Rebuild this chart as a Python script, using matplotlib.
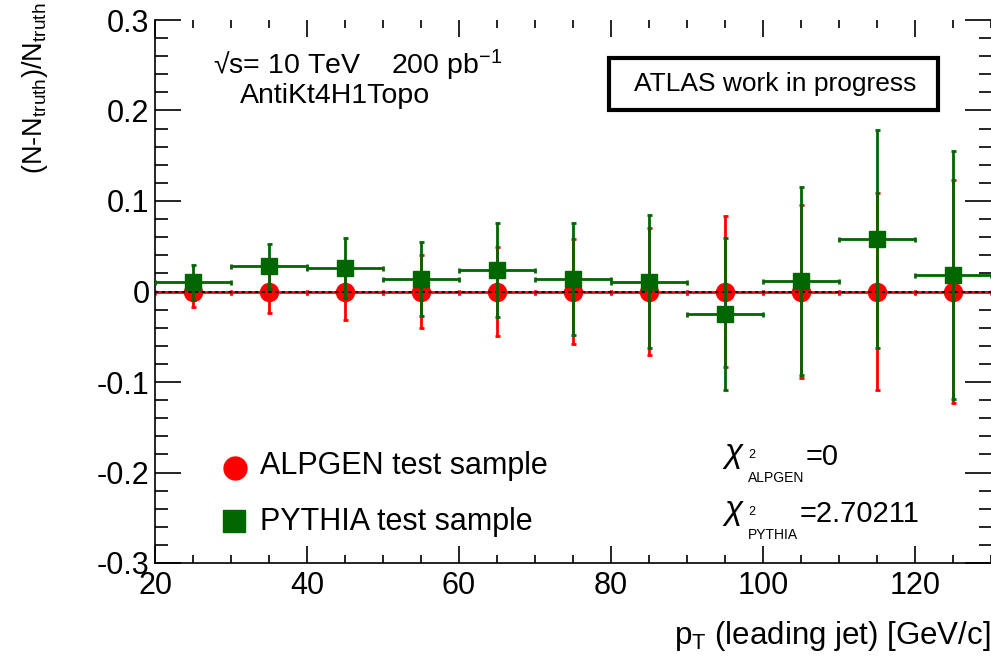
import numpy as np
import matplotlib
matplotlib.use("Agg")
import matplotlib.pyplot as plt
from matplotlib.patches import Rectangle
from matplotlib.lines import Line2D
from matplotlib.ticker import MultipleLocator

plt.rcParams['font.family'] = ['Liberation Sans', 'DejaVu Sans']
plt.rcParams['mathtext.fontset'] = 'custom'
plt.rcParams['mathtext.rm'] = 'Liberation Sans'
plt.rcParams['mathtext.it'] = 'Liberation Sans'

# bin centres in pT of the leading jet, 10 GeV wide bins
pt = [25, 35, 45, 55, 65, 75, 85, 95, 105, 115, 125]
pt_halfwidth = 5

alpgen = [0, 0, 0, 0, 0, 0, 0, 0, 0, 0, 0]
alpgen_err = [0.017, 0.024, 0.032, 0.040, 0.049, 0.058, 0.070, 0.083, 0.096, 0.109, 0.123]

pythia = [0.010, 0.028, 0.026, 0.014, 0.024, 0.014, 0.011, -0.025, 0.012, 0.058, 0.018]
pythia_err = [0.019, 0.025, 0.033, 0.041, 0.052, 0.062, 0.073, 0.084, 0.104, 0.120, 0.137]

chi2_alpgen = '0'
chi2_pythia = '2.70211'

W, H = 991, 660
fig = plt.figure(figsize=(W / 100, H / 100), dpi=100)
ax = fig.add_axes([155 / W, 1 - 563 / H, 1 - 155 / W, (563 - 20) / H])

red = '#ff0000'
green = '#006600'

ax.errorbar(pt, alpgen, yerr=alpgen_err, xerr=pt_halfwidth, fmt='o', color=red,
            ms=13, mec=red, elinewidth=2, capsize=1.8, capthick=2, zorder=2)
ax.axhline(0, color='black', lw=1.2, dashes=(2, 2), zorder=3)
ax.errorbar(pt, pythia, yerr=pythia_err, xerr=pt_halfwidth, fmt='s', color=green,
            ms=11.5, mec=green, elinewidth=2, capsize=1.8, capthick=2, zorder=4)

ax.set_xlim(20, 130)
ax.set_ylim(-0.3, 0.3)
ax.xaxis.set_major_locator(MultipleLocator(20))
ax.xaxis.set_minor_locator(MultipleLocator(5))
ax.yaxis.set_major_locator(MultipleLocator(0.1))
ax.yaxis.set_minor_locator(MultipleLocator(0.02))
ax.yaxis.set_major_formatter(plt.FuncFormatter(lambda v, p: '0' if abs(v) < 1e-9 else f'{v:g}'))

ax.tick_params(axis='y', which='major', direction='in', length=19, width=1.2,
               labelsize=22, pad=4, left=True, right=True)
ax.tick_params(axis='y', which='minor', direction='in', length=9, width=1.2,
               left=True, right=True)
ax.tick_params(axis='x', which='major', direction='in', length=12, width=1.2,
               labelsize=22, pad=6, bottom=True, top=True)
ax.tick_params(axis='x', which='minor', direction='in', length=5.5, width=1.2,
               bottom=True, top=True)
for s in ['top', 'right']:
    ax.spines[s].set_visible(False)
for s in ['left', 'bottom']:
    ax.spines[s].set_linewidth(1.2)

# axis titles
fig.text(35 / W, 1 - 3 / H, r'(N-N$_{\rm truth}$)/N$_{\rm truth}$', rotation=90,
         ha='center', va='top', fontsize=19.5)
fig.text(990 / W, 1 - 636 / H, r'p$_{\rm T}$ (leading jet) [GeV/c]',
         ha='right', va='center', fontsize=22.5)

# labels inside the frame
fig.text(213 / W, 1 - 74 / H, '√s= 10 TeV    200 pb$^{-1}$',
         ha='left', va='baseline', fontsize=20.5)
fig.text(240 / W, 1 - 103 / H, 'AntiKt4H1Topo', ha='left', va='baseline', fontsize=20.5)

fig.patches.append(Rectangle((609 / W, 1 - 110 / H), (938 - 609) / W, (110 - 58) / H,
                             transform=fig.transFigure, fill=False, ec='black', lw=3))
fig.text(775 / W, 1 - 84 / H, 'ATLAS work in progress', ha='center', va='center', fontsize=19)

# legend entries
fig.add_artist(Line2D([235 / W], [1 - 468 / H], marker='o', color=red, ms=16.5,
                      transform=fig.transFigure))
fig.text(260 / W, 1 - 466 / H, 'ALPGEN test sample', ha='left', va='center', fontsize=22)
fig.add_artist(Line2D([234 / W], [1 - 521 / H], marker='s', color=green, ms=16.5,
                      transform=fig.transFigure))
fig.text(260 / W, 1 - 522 / H, 'PYTHIA test sample', ha='left', va='center', fontsize=22)

# chi2 of each sample with respect to truth
for y0, name, val, xeq in [(465, 'ALPGEN', chi2_alpgen, 806),
                           (522, 'PYTHIA', chi2_pythia, 800)]:
    fig.text(724 / W, 1 - (y0 - 3) / H, 'χ', ha='left', va='baseline', fontsize=24,
             fontstyle='italic')
    fig.text(748 / W, 1 - (y0 - 7) / H, '2', ha='left', va='baseline', fontsize=9)
    fig.text(748 / W, 1 - (y0 + 17) / H, name, ha='left', va='baseline', fontsize=10)
    fig.text(xeq / W, 1 - y0 / H, '=' + val, ha='left', va='baseline', fontsize=21)

fig.savefig('out.png', dpi=100)
